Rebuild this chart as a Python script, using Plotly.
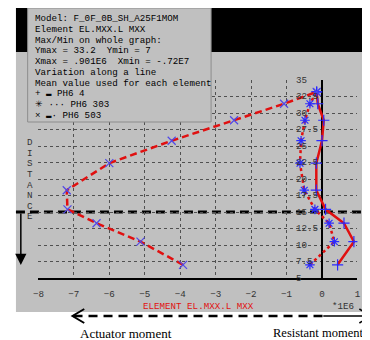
import plotly.graph_objects as go

# ---------------- data ----------------
y_levels = [7.0, 10.5, 13.3, 15.4, 18.3, 22.4, 25.8, 28.9, 31.4, 33.2]
ph6_4 = [0.44, 0.90, 0.62, 0.10, -0.16, -0.16, 0.0, 0.05, -0.12, -0.15]
ph6_303 = [-0.34, 0.35, 0.20, -0.20, -0.50, -0.62, -0.59, -0.48, -0.34, -0.15]
ph6_503 = [-3.92, -5.12, -6.36, -7.18, -7.20, -6.00, -4.24, -2.48, -1.07, -0.15]
series_names = ["PH6 4", "PH6 303", "PH6 503"]

x_ticks = [-8, -7, -6, -5, -4, -3, -2, -1, 0, 1]
y_ticks = [5, 7.5, 10, 12.5, 15, 17.5, 20, 22.5, 25, 27.5, 30, 32.5, 35]
y_tick_labels = ["5", "7.5", "10", "12.5", "15", "17.5", "20", "22.5", "25",
                 "27.5", "30", "32.5", "35"]
threshold_y = 15

info_lines = [
    "Model: F_0F_0B_SH_A25F1MOM",
    "Element EL.MXX.L MXX",
    "Max/Min on whole graph:",
    "Ymax = 33.2  Ymin = 7",
    "Xmax = .901E6  Xmin = -.72E7",
    "Variation along a line",
    "Mean value used for each element",
    "+ \u25ac PH6 4",
    "\u2733 \u00b7\u00b7\u00b7 PH6 303",
    "\u00d7 \u25ac\u00b7 PH6 503",
]
axis_letters = list("DISTANCE")
x_title = "ELEMENT EL.MXX.L MXX"
x_scale = "*1E6"
bottom_left_text = "Actuator moment"
bottom_right_text = "Resistant moment"

# ---------------- figure ----------------
W, H = 370, 340
OFF = 8  # page body margin offset

def px(x):
    return (x - OFF) / W

def py(y):
    return 1 - (y - OFF) / H

MONO = "Liberation Mono"
RED = "#e01010"
BLUE = "#2a2aff"
GRAY = "#c0c0c0"

fig = go.Figure()
styles = [
    dict(dash="solid", symbol="cross-thin", mcolor=BLUE, size=8),
    dict(dash="3px,3px", symbol="asterisk", mcolor=BLUE, size=8),
    dict(dash="7px,4px", symbol="x-thin", mcolor="#5048e8", size=8),
]
for name, xs, st in zip(series_names, [ph6_4, ph6_303, ph6_503], styles):
    fig.add_trace(go.Scatter(
        x=xs, y=y_levels, mode="lines+markers", name=name,
        line=dict(color=RED, width=2.5, dash=st["dash"]),
        marker=dict(symbol=st["symbol"], size=st["size"], color=st["mcolor"],
                    line=dict(color=st["mcolor"], width=1.2)),
        showlegend=False,
    ))

shapes = [
    dict(type="rect", xref="paper", yref="paper", x0=px(10), x1=px(380),
         y0=py(312), y1=py(52), fillcolor=GRAY, line=dict(width=0), layer="below"),
    dict(type="rect", xref="paper", yref="paper", x0=px(10), x1=px(380),
         y0=py(52), y1=py(8), fillcolor="black", line=dict(width=0), layer="below"),
    dict(type="line", xref="paper", yref="y", x0=px(10), x1=px(380),
         y0=threshold_y, y1=threshold_y,
         line=dict(color="black", width=3, dash="9px,5px"), layer="below"),
    dict(type="rect", xref="paper", yref="paper", x0=px(22), x1=px(210),
         y0=py(122), y1=py(8), fillcolor=GRAY, line=dict(color="#8c8c8c", width=1),
         layer="above"),
    dict(type="line", xref="paper", yref="paper", x0=px(69), x1=px(325),
         y0=py(316), y1=py(316), line=dict(color="black", width=2.5, dash="9px,6px")),
    dict(type="line", xref="paper", yref="paper", x0=px(325), x1=px(371),
         y0=py(316), y1=py(316), line=dict(color="black", width=1.3)),
    dict(type="path", xref="paper", yref="paper",
         path=f"M {px(80)},{py(309)} L {px(68)},{py(316)} L {px(80)},{py(323)}",
         line=dict(color="black", width=2)),
    dict(type="path", xref="paper", yref="paper",
         path=f"M {px(362)},{py(309)} L {px(373)},{py(316)} L {px(362)},{py(323)}",
         line=dict(color="black", width=1.5)),
]

ann = []
for i, t in enumerate(info_lines):
    ann.append(dict(xref="paper", yref="paper", x=px(27), y=py(18.5 + i * 10.75),
                    text=t, showarrow=False, xanchor="left", yanchor="middle",
                    font=dict(family=MONO, size=9.2, color="black")))
for v, lab in zip(y_ticks, y_tick_labels):
    ann.append(dict(xref="x", yref="y", x=-0.8, y=v, text=lab, showarrow=False,
                    xanchor="left", yanchor="middle",
                    font=dict(family=MONO, size=9.2, color="#333333")))
for i, ch in enumerate(axis_letters):
    ann.append(dict(xref="paper", yref="paper", x=px(24), y=py(143 + i * 10.5),
                    text=ch, showarrow=False, xanchor="center", yanchor="middle",
                    font=dict(family=MONO, size=9.2, color="#333333")))
ann.append(dict(xref="paper", yref="paper", x=px(197), y=py(306), text=x_title,
                showarrow=False, xanchor="center", yanchor="middle",
                font=dict(family=MONO, size=9.2, color=RED)))
ann.append(dict(xref="paper", yref="paper", x=px(345), y=py(306), text=x_scale,
                showarrow=False, xanchor="center", yanchor="middle",
                font=dict(family=MONO, size=9.2, color="#333333")))
ann.append(dict(xref="paper", yref="paper", x=px(123), y=py(333), text=bottom_left_text,
                showarrow=False, xanchor="center", yanchor="middle",
                font=dict(family="Liberation Serif", size=13, color="black")))
ann.append(dict(xref="paper", yref="paper", x=px(368), y=py(333), text=bottom_right_text,
                showarrow=False, xanchor="right", yanchor="middle",
                font=dict(family="Liberation Serif", size=12.5, color="black")))
for xa in (15, 372):
    ann.append(dict(xref="paper", yref="paper", x=px(xa), y=py(265), text="",
                    showarrow=True, ax=0, ay=-53, arrowhead=2, arrowsize=1.5,
                    arrowwidth=1.5, arrowcolor="black"))

fig.update_layout(
    width=W, height=H, margin=dict(l=0, r=0, t=0, b=0),
    paper_bgcolor="white", plot_bgcolor="rgba(0,0,0,0)",
    shapes=shapes, annotations=ann, showlegend=False,
    xaxis=dict(domain=[px(33), px(360)], range=[-8, 1], tickvals=x_ticks,
               showgrid=True, gridcolor="#505050", griddash="dot", gridwidth=1,
               zeroline=True, zerolinecolor="black", zerolinewidth=1.5,
               showline=True, linecolor="black", linewidth=1.5,
               ticks="", ticklabelstandoff=6,
               tickfont=dict(family=MONO, size=9.2, color="#333333"),
               fixedrange=True),
    yaxis=dict(domain=[py(278), py(80)], range=[5, 35], tickvals=y_ticks,
               showticklabels=False, showgrid=True, gridcolor="#505050",
               griddash="dot", gridwidth=1, zeroline=False, showline=False,
               ticks="", fixedrange=True),
)

fig.write_html("out.html")
